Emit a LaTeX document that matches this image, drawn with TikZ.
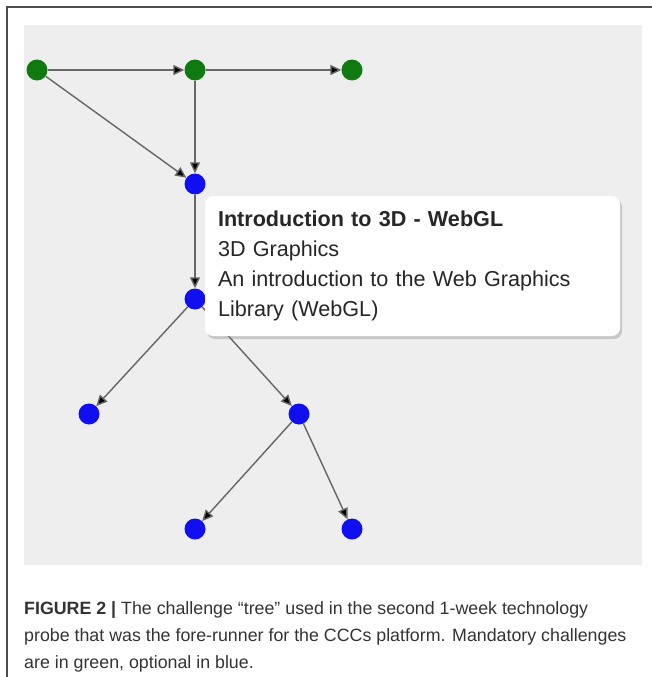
\documentclass[tikz,border=0pt]{standalone}
\usepackage{fontspec}
\setmainfont{Liberation Sans}
\usetikzlibrary{positioning, arrows.meta, shadows}
\definecolor{mandgreen}{HTML}{0F7A0F}
\definecolor{optblue}{HTML}{0F0FF0}
\definecolor{bggray}{HTML}{EEEEEE}
\definecolor{captxt}{HTML}{333333}

\begin{document}
\begin{tikzpicture}[x=1pt, y=-1pt,
  mand/.style={circle, fill=mandgreen, inner sep=0pt, minimum size=21pt},
  opt/.style={circle, fill=optblue, inner sep=0pt, minimum size=21pt},
  link/.style={draw=black!60, line width=1.4pt, -{Triangle[length=11pt,width=10pt,fill=black]}},
  tipbox/.style={fill=white, rounded corners=8pt, drop shadow={opacity=0.35, shadow xshift=2pt, shadow yshift=-3pt},
    align=left, inner xsep=13pt, text width=389pt, minimum height=140pt, font=\fontsize{21.6}{30}\selectfont, text=black!85}]
\useasboundingbox (0,0) rectangle (652,677);
\draw[black!70, line width=1.2pt] (7,677) -- (7,7) -- (652,7);
\fill[bggray] (24,25) rectangle (642,565);
% challenge nodes
\node(g1)[mand] at (37,70) {};
\node(g2)[mand] at (195,70) {};
\node(g3)[mand] at (352,70) {};
\node(b1)[opt] at (195,184) {};
\node(b2)[opt] at (195,299) {};
\node(b3)[opt] at (89,414) {};
\node(b4)[opt] at (299,414) {};
\node(b5)[opt] at (195,529) {};
\node(b6)[opt] at (352,529) {};
\draw[link] (g1) -- (g2);
\draw[link] (g2) -- (g3);
\draw[link] (g1) -- (b1);
\draw[link] (g2) -- (b1);
\draw[link] (b1) -- (b2);
\draw[link] (b2) -- (b3);
\draw[link] (b2) -- (b4);
\draw[link] (b4) -- (b5);
\draw[link] (b4) -- (b6);
% tooltip
\node(tip)[tipbox] at (412.5,266) {\textbf{Introduction to 3D - WebGL}\\3D Graphics\\An introduction to the Web Graphics\\Library (WebGL)};
% caption
\node(cap)[anchor=north west, align=left, inner sep=0pt, text=captxt, font=\fontsize{17.8}{27}\selectfont] at (24,601)
  {\textbf{FIGURE 2 |} The challenge “tree” used in the second 1-week technology\\
   probe that was the fore-runner for the CCCs platform. Mandatory challenges\\
   are in green, optional in blue.};
\end{tikzpicture}
\end{document}
